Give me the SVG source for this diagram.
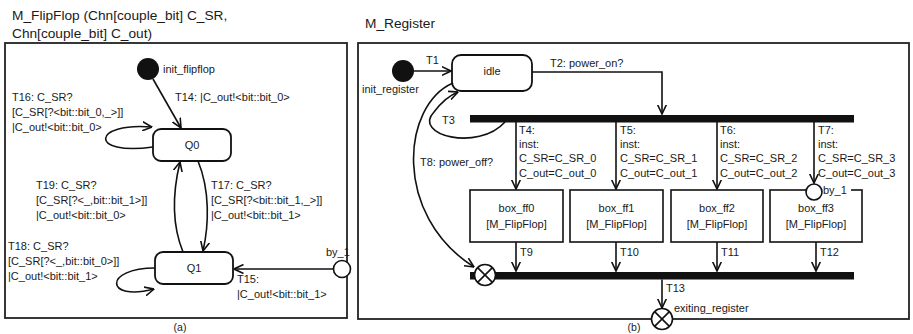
<svg xmlns="http://www.w3.org/2000/svg" width="913" height="334" viewBox="0 0 913 334">
<style>
text{font-family:"Liberation Sans",Arial,sans-serif;font-size:11px;fill:#1a1a1a}
.title{font-size:13.7px}
.cap{font-size:10.5px}
.mid{text-anchor:middle}
.frame{fill:none;stroke:#222;stroke-width:1.8}
.state{fill:#fff;stroke:#111;stroke-width:1.8}
.box{fill:#fff;stroke:#111;stroke-width:1.6}
.edge{fill:none;stroke:#111;stroke-width:1.6}
.bar{fill:#111}
.init{fill:#111}
.pt{fill:#fff;stroke:#111;stroke-width:1.6}
</style>
<defs>
<marker id="arr" viewBox="0 0 10 10" refX="9.5" refY="5" markerWidth="10" markerHeight="10" markerUnits="userSpaceOnUse" orient="auto">
<path d="M0,0.5 L9.5,5 L0,9.5" fill="none" stroke="#111" stroke-width="1.6"/>
</marker>
</defs>
<rect width="913" height="334" fill="#fff"/>

<!-- Left panel -->
<g id="panel-a">
<text class="title" x="12" y="20">M_FlipFlop (Chn[couple_bit] C_SR,</text>
<text class="title" x="12" y="38">Chn[couple_bit] C_out)</text>
<rect class="frame" x="5" y="43" width="342" height="275"/>
<text class="cap mid" x="180" y="331">(a)</text>
</g>

<g id="init_flipflop">
<circle class="init" cx="148" cy="69" r="11"/>
<text x="163" y="73">init_flipflop</text>
</g>
<g id="Q0">
<rect class="state" x="153" y="129" width="78" height="32" rx="8"/>
<text class="mid" x="192" y="149">Q0</text>
</g>
<g id="Q1">
<rect class="state" x="155" y="252" width="78" height="32" rx="8"/>
<text class="mid" x="194" y="272">Q1</text>
</g>
<g id="by_1_a">
<circle class="pt" cx="342" cy="269" r="8.5"/>
<text x="326" y="256">by_1</text>
</g>

<!-- Right panel -->
<g id="panel-b">
<text class="title" x="365" y="28">M_Register</text>
<rect class="frame" x="358" y="43" width="551" height="276"/>
<text class="cap mid" x="634" y="331">(b)</text>
</g>
<g id="init_register">
<circle class="init" cx="403" cy="71" r="11"/>
<text x="362" y="93">init_register</text>
</g>
<g id="idle">
<rect class="state" x="452" y="55" width="80" height="36" rx="9"/>
<text class="mid" x="492" y="75">idle</text>
</g>
<g id="fork">
<rect class="bar" x="470" y="115" width="384" height="7.5"/>
</g>
<g id="join">
<rect class="bar" x="470" y="272" width="384" height="7.5"/>
</g>
<g id="box_ff0">
<rect class="box" x="470" y="190" width="93" height="52"/>
<text class="mid" x="516.5" y="212">box_ff0</text>
<text class="mid" x="516.5" y="228">[M_FlipFlop]</text>
</g>
<g id="box_ff1">
<rect class="box" x="570" y="190" width="93" height="52"/>
<text class="mid" x="616.5" y="212">box_ff1</text>
<text class="mid" x="616.5" y="228">[M_FlipFlop]</text>
</g>
<g id="box_ff2">
<rect class="box" x="671" y="190" width="92" height="52"/>
<text class="mid" x="717" y="212">box_ff2</text>
<text class="mid" x="717" y="228">[M_FlipFlop]</text>
</g>
<g id="box_ff3">
<rect class="box" x="770" y="190" width="92" height="52"/>
<text class="mid" x="816" y="212">box_ff3</text>
<text class="mid" x="816" y="228">[M_FlipFlop]</text>
<rect x="821" y="185" width="30" height="11" fill="#fff"/>
<circle class="pt" cx="814" cy="192" r="8"/>
<text x="823" y="194">by_1</text>
</g>
<g id="exit_join">
<circle class="pt" cx="485" cy="275" r="10.5"/>
<path class="edge" d="M477.6,267.6 L492.4,282.4 M492.4,267.6 L477.6,282.4"/>
</g>
<g id="exiting_register">
<circle class="pt" cx="662" cy="319" r="10.5"/>
<path class="edge" d="M654.6,311.6 L669.4,326.4 M669.4,311.6 L654.6,326.4"/>
<text x="674" y="312">exiting_register</text>
</g>

<!-- Connectors -->
<g id="connectors">
<!-- left -->
<path class="edge" d="M153,79 L181,128" marker-end="url(#arr)"/>
<path class="edge" d="M153,147 C 88,156 92,122 152,127" marker-end="url(#arr)"/>
<path class="edge" d="M183,252 C 172,225 172,195 180,162" marker-end="url(#arr)"/>
<path class="edge" d="M198,161 C 210,190 209,225 203,251" marker-end="url(#arr)"/>
<path class="edge" d="M155,268 C 103,268 105,302 154,289" marker-end="url(#arr)"/>
<path class="edge" d="M333.5,269 L234,269" marker-end="url(#arr)"/>
<!-- right -->
<path class="edge" d="M414,71 L451,71" marker-end="url(#arr)"/>
<path class="edge" d="M532,72 L662,72 L662,114" marker-end="url(#arr)"/>
<path class="edge" d="M505,122 C 478,152 412,135 434,112 C 440,104 448,96 458,92" marker-end="url(#arr)"/>
<path class="edge" d="M453,83 C 402,105 392,215 474,267" marker-end="url(#arr)"/>
<path class="edge" d="M516,122 L516,189" marker-end="url(#arr)"/>
<path class="edge" d="M616,122 L616,189" marker-end="url(#arr)"/>
<path class="edge" d="M717,122 L717,189" marker-end="url(#arr)"/>
<path class="edge" d="M814,122 L814,183" marker-end="url(#arr)"/>
<path class="edge" d="M516,242 L516,271" marker-end="url(#arr)"/>
<path class="edge" d="M616,242 L616,271" marker-end="url(#arr)"/>
<path class="edge" d="M717,242 L717,271" marker-end="url(#arr)"/>
<path class="edge" d="M816,242 L816,271" marker-end="url(#arr)"/>
<path class="edge" d="M662,279.5 L662,308" marker-end="url(#arr)"/>
</g>

<g id="labels">
<text x="175" y="101">T14: |C_out!&lt;bit::bit_0&gt;</text>
<text x="12" y="101">T16: C_SR?</text>
<text x="12" y="116">[C_SR[?&lt;bit::bit_0,_&gt;]]</text>
<text x="12" y="131">|C_out!&lt;bit::bit_0&gt;</text>
<text x="36" y="189">T19: C_SR?</text>
<text x="36" y="204">[C_SR[?&lt;_,bit::bit_1&gt;]]</text>
<text x="36" y="219">|C_out!&lt;bit::bit_0&gt;</text>
<text x="211" y="189">T17: C_SR?</text>
<text x="211" y="204">[C_SR[?&lt;bit::bit_1,_&gt;]]</text>
<text x="211" y="219">|C_out!&lt;bit::bit_1&gt;</text>
<text x="8" y="250">T18: C_SR?</text>
<text x="8" y="265">[C_SR[?&lt;_,bit::bit_0&gt;]]</text>
<text x="8" y="280">|C_out!&lt;bit::bit_1&gt;</text>
<text x="237" y="283">T15:</text>
<text x="237" y="298">|C_out!&lt;bit::bit_1&gt;</text>

<text x="426" y="64">T1</text>
<text x="550" y="67">T2: power_on?</text>
<text x="442" y="124">T3</text>
<text x="420" y="166">T8: power_off?</text>
<text x="519" y="134">T4:</text>
<text x="519" y="148">inst:</text>
<text x="519" y="162">C_SR=C_SR_0</text>
<text x="519" y="177">C_out=C_out_0</text>
<text x="620" y="134">T5:</text>
<text x="620" y="148">inst:</text>
<text x="620" y="162">C_SR=C_SR_1</text>
<text x="620" y="177">C_out=C_out_1</text>
<text x="720" y="134">T6:</text>
<text x="720" y="148">inst:</text>
<text x="720" y="162">C_SR=C_SR_2</text>
<text x="720" y="177">C_out=C_out_2</text>
<text x="818" y="134">T7:</text>
<text x="818" y="148">inst:</text>
<text x="818" y="162">C_SR=C_SR_3</text>
<text x="818" y="177">C_out=C_out_3</text>
<text x="520" y="256">T9</text>
<text x="620" y="256">T10</text>
<text x="721" y="256">T11</text>
<text x="820" y="256">T12</text>
<text x="666" y="292">T13</text>
</g>
</svg>
